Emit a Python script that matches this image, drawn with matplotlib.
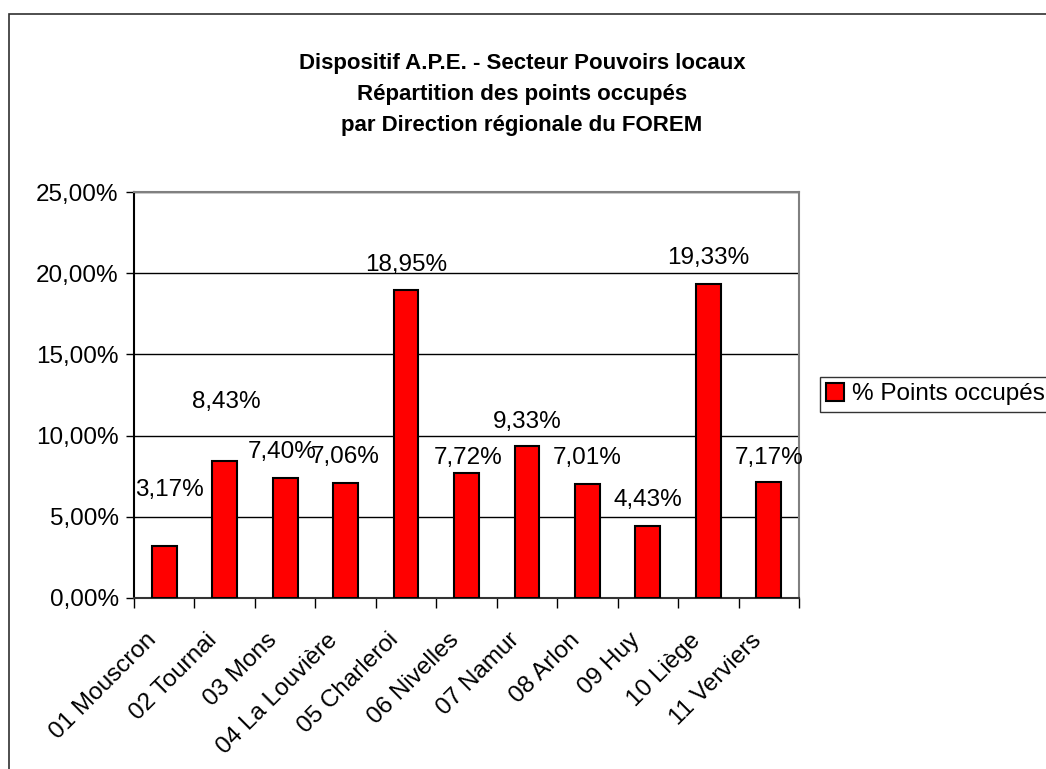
import matplotlib.pyplot as plt
from matplotlib.patches import Rectangle
from matplotlib.transforms import ScaledTranslation

plt.rcParams['font.family'] = ['Liberation Sans', 'DejaVu Sans']

regions = ['01 Mouscron', '02 Tournai', '03 Mons', '04 La Louvière', '05 Charleroi',
           '06 Nivelles', '07 Namur', '08 Arlon', '09 Huy', '10 Liège', '11 Verviers']
points = [3.17, 8.43, 7.40, 7.06, 18.95, 7.72, 9.33, 7.01, 4.43, 19.33, 7.17]
# heights where the value labels sit (data units)
label_y = [6.65, 12.07, 8.99, 8.68, 20.50, 8.62, 10.84, 8.62, 6.03, 20.94, 8.62]
label_dx = [0.08, 0.02, -0.05, 0.0, 0.0, 0.02, 0.0, 0.0, 0.0, 0.0, 0.0]
yticks = [0, 5, 10, 15, 20, 25]

fs = 17.5

fig = plt.figure(figsize=(10.46, 7.69), dpi=100)
ax = fig.add_axes([0.1281, 0.2224, 0.6358, 0.5279])

x = list(range(len(regions)))
ax.bar(x, points, width=0.41, color='#ff0000', edgecolor='black', linewidth=1.5,
       zorder=3, label='% Points occupés')

for i, v in enumerate(points):
    ax.text(i + label_dx[i], label_y[i], ('%.2f%%' % v).replace('.', ','),
            ha='center', va='center', fontsize=fs, zorder=4)

ax.set_xlim(-0.5, len(regions) - 0.5)
ax.set_ylim(0, 25)
ax.set_yticks(yticks)
ax.set_yticklabels([('%.2f%%' % t).replace('.', ',') for t in yticks], fontsize=fs)
ax.yaxis.grid(True, color='black', linewidth=1)
ax.set_axisbelow(True)
ax.tick_params(axis='y', direction='out', length=6, width=1, pad=5)

ax.set_xticks(x)
ax.set_xticklabels(regions, rotation=45, ha='right', va='center',
                   rotation_mode='anchor', fontsize=fs)
ax.tick_params(axis='x', which='major', length=0, pad=28)
shift = ScaledTranslation(-11 / 100, 0, fig.dpi_scale_trans)
for lab in ax.get_xticklabels():
    lab.set_transform(lab.get_transform() + shift)
ax.set_xticks([i + 0.5 for i in range(-1, len(regions))], minor=True)
ax.tick_params(axis='x', which='minor', direction='out', length=7, width=1)

ax.spines['left'].set_color('black')
ax.spines['bottom'].set_color('#333333')
ax.spines['top'].set_color('#808080')
ax.spines['right'].set_color('#808080')
for s in ax.spines.values():
    s.set_linewidth(1.5)

fig.text(0.499, 0.877, 'Dispositif A.P.E. - Secteur Pouvoirs locaux\n'
         'Répartition des points occupés\npar Direction régionale du FOREM',
         ha='center', va='center', fontsize=16, fontweight='bold', linespacing=1.6)

leg = fig.legend(loc='upper left', bbox_to_anchor=(820 / 1046, 1 - 377 / 769),
                 fontsize=fs, frameon=True, fancybox=False, borderpad=0.25,
                 handlelength=0.75, handleheight=0.75, handletextpad=0.3,
                 borderaxespad=0)
leg.get_frame().set_edgecolor('black')
leg.get_frame().set_linewidth(1)

# outer chart border
fig.patches.append(Rectangle((9 / 1046, -0.1), 1.2, 1 - 14 / 769 + 0.1,
                             transform=fig.transFigure, fill=False,
                             edgecolor='#303030', linewidth=1.2))

fig.savefig('out.png', dpi=100)
